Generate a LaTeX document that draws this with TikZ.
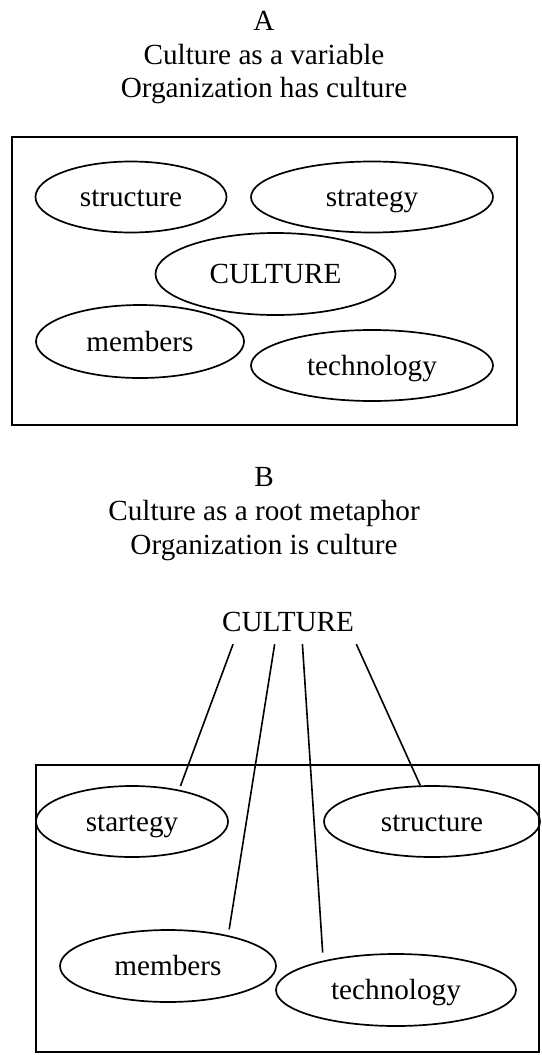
\documentclass[tikz,border=0pt]{standalone}
\usepackage{fontspec}
\setmainfont{Liberation Serif}
\usetikzlibrary{shapes.geometric}
\begin{document}
\begin{tikzpicture}[x=1pt,y=-1pt,
  txt/.style={font=\fontsize{29.2}{35}\selectfont},
  lbl/.style={txt, inner sep=0pt, anchor=base},
  oval/.style={draw, ellipse, line width=1.7pt, inner sep=0pt, txt, text height=20pt, text depth=1pt},
  frame/.style={draw, line width=1.7pt, inner sep=0pt},
  link/.style={line width=1.6pt}]
\fill[white] (0,0) rectangle (541,1055);
\useasboundingbox (0,0) rectangle (541,1055);
% Part A
\node[lbl] (tA1) at (264,30) {A};
\node[lbl] (tA2) at (264,64) {Culture as a variable};
\node[lbl] (tA3) at (264,97) {Organization has culture};
\node[frame, minimum width=505pt, minimum height=288pt] (boxA) at (264.5,281) {};
\node[oval, minimum width=191pt, minimum height=71pt] (astr) at (131,197) {structure};
\node[oval, minimum width=242pt, minimum height=71pt] (astg) at (372,197) {strategy};
\node[oval, minimum width=240pt, minimum height=82pt] (acul) at (275.5,274) {CULTURE};
\node[oval, minimum width=208pt, minimum height=73pt] (amem) at (140,341.5) {members};
\node[oval, minimum width=242pt, minimum height=71pt] (atec) at (372,365.5) {technology};
% Part B
\node[lbl] (tB1) at (264,486) {B};
\node[lbl] (tB2) at (264,520) {Culture as a root metaphor};
\node[lbl] (tB3) at (264,554) {Organization is culture};
\node[txt, text height=19.3pt, text depth=0pt, inner ysep=12.35pt, inner xsep=4pt] (bcul) at (288,622) {CULTURE};
\node[frame, minimum width=503pt, minimum height=287pt] (boxB) at (287.5,908.5) {};
\node[oval, minimum width=192pt, minimum height=71pt] (bstg) at (132,821.5) {startegy};
\node[oval, minimum width=216pt, minimum height=71pt] (bstr) at (432,821.5) {structure};
\node[oval, minimum width=216pt, minimum height=72pt] (bmem) at (168,966) {members};
\node[oval, minimum width=240pt, minimum height=72pt] (btec) at (396,990) {technology};
\draw[link, shorten >=4pt] (bcul.202.9) -- (bstg.34);
\draw[link, shorten >=6pt] (bcul.239) -- (bmem.27);
\draw[link, shorten >=8pt] (bcul.303) -- (btec.158);
\draw[link] (bcul.342.1) -- (bstr.108);
\end{tikzpicture}
\end{document}
